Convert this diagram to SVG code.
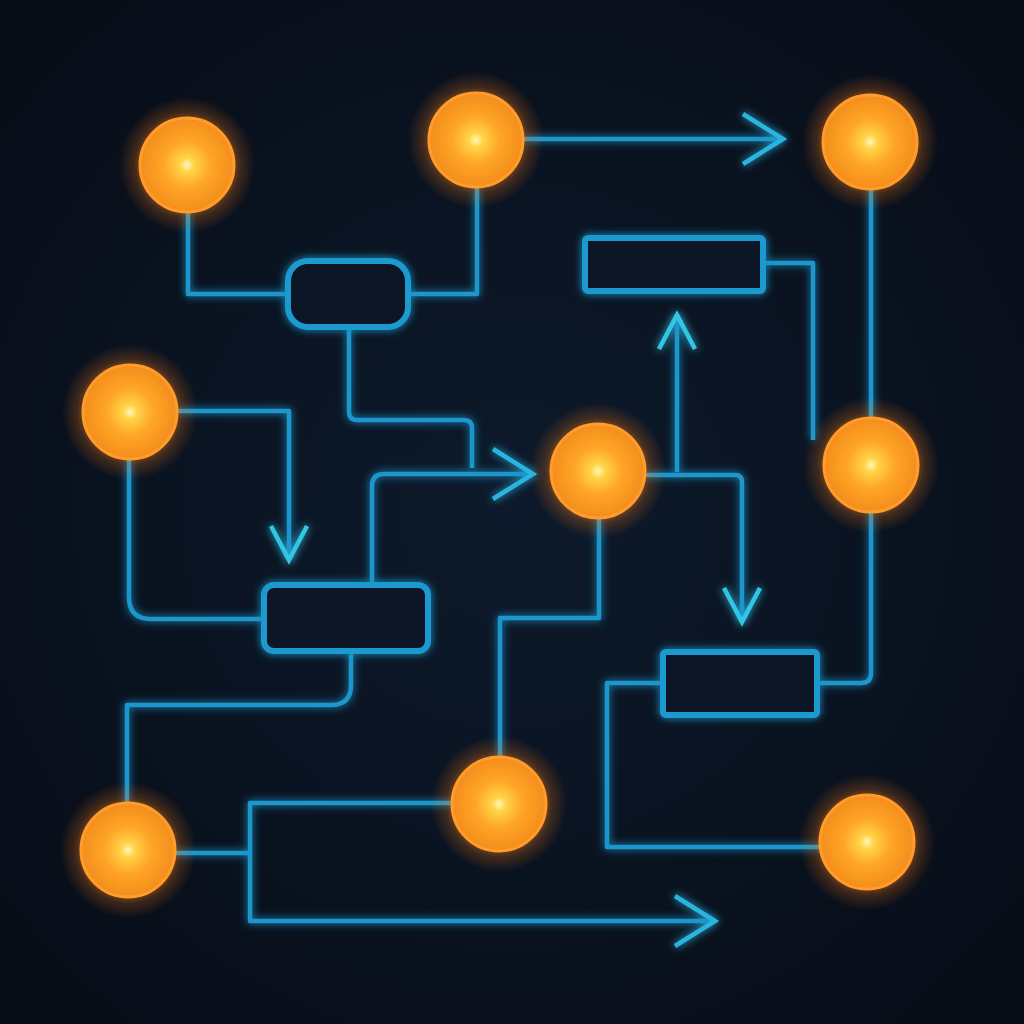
<svg xmlns="http://www.w3.org/2000/svg" width="1024" height="1024" viewBox="0 0 1024 1024">
<defs>
<radialGradient id="bg" cx="50%" cy="50%" r="70%">
<stop offset="0" stop-color="#0d1a2b"/>
<stop offset="1" stop-color="#070c16"/>
</radialGradient>
<radialGradient id="orb" cx="50%" cy="50%" r="50%">
<stop offset="0" stop-color="#fff8c0"/>
<stop offset="0.15" stop-color="#ffd448"/>
<stop offset="0.5" stop-color="#ffa626"/>
<stop offset="1" stop-color="#f38d1c"/>
</radialGradient>
<radialGradient id="halo" cx="50%" cy="50%" r="50%">
<stop offset="0.6" stop-color="#ff8a1a" stop-opacity="0.6"/>
<stop offset="0.78" stop-color="#ff7a10" stop-opacity="0.22"/>
<stop offset="1" stop-color="#ff7a10" stop-opacity="0"/>
</radialGradient>
<filter id="glow" x="-20%" y="-20%" width="140%" height="140%">
<feGaussianBlur in="SourceGraphic" stdDeviation="4" result="b"/>
<feMerge><feMergeNode in="b"/><feMergeNode in="SourceGraphic"/></feMerge>
</filter>
<marker id="big" markerUnits="userSpaceOnUse" viewBox="-4 -4 48 58" refX="40" refY="25" markerWidth="48" markerHeight="58" orient="auto" overflow="visible">
<path d="M0,0 L40,25 L0,50" fill="none" stroke="#2bb4e0" stroke-width="4.5" stroke-linejoin="miter"/>
</marker>
<marker id="small" markerUnits="userSpaceOnUse" viewBox="-4 -4 42 44" refX="34" refY="18" markerWidth="42" markerHeight="44" orient="auto" overflow="visible">
<path d="M0,0 L34,18 L0,36" fill="none" stroke="#33c6e6" stroke-width="4.5" stroke-linejoin="miter"/>
</marker>
</defs>
<style>
.wire{fill:none;stroke:#1f96cc;stroke-width:4.5;stroke-linejoin:round;stroke-linecap:butt}
.box{fill:#0a1626;stroke:#1f9ad0;stroke-width:6}
.orb{fill:url(#orb);stroke:#ff9c2c;stroke-width:3}
.halo{fill:url(#halo)}
</style>
<rect width="1024" height="1024" fill="url(#bg)"/>

<g id="connectors" filter="url(#glow)">
<path class="wire" d="M188,213 V294 H288"/>
<path class="wire" d="M408,294 H477 V188"/>
<path class="wire" d="M524,139 H783" marker-end="url(#big)"/>
<path class="wire" d="M349,327 V412 Q349,420 357,420 H464 Q472,420 472,428 V468"/>
<path class="wire" d="M372,584 V486 Q372,474 384,474 H533" marker-end="url(#big)"/>
<path class="wire" d="M178,411 H289 V560" marker-end="url(#small)"/>
<path class="wire" d="M129,460 V597 Q129,619 151,619 H263"/>
<path class="wire" d="M351,652 V685 Q351,705 331,705 H127 V802"/>
<path class="wire" d="M175,853 H250"/>
<path class="wire" d="M452,803 H250 V921 H715" marker-end="url(#big)"/>
<path class="wire" d="M500,757 V618 H599 V518"/>
<path class="wire" d="M677,472 V315" marker-end="url(#small)"/>
<path class="wire" d="M646,475 H735 Q742,475 742,482 V622" marker-end="url(#small)"/>
<path class="wire" d="M764,263 H813 V440"/>
<path class="wire" d="M871,190 V417"/>
<path class="wire" d="M871,513 V673 Q871,683 861,683 H818"/>
<path class="wire" d="M662,683 H607 V847 H820"/>
</g>

<g id="box-a" filter="url(#glow)"><rect class="box" x="288" y="261" width="120" height="66" rx="20"/></g>
<g id="box-b" filter="url(#glow)"><rect class="box" x="585" y="238" width="178" height="53" rx="3"/></g>
<g id="box-c" filter="url(#glow)"><rect class="box" x="264" y="585" width="164" height="66" rx="10"/></g>
<g id="box-d" filter="url(#glow)"><rect class="box" x="663" y="652" width="154" height="63" rx="3"/></g>

<g id="node-1"><circle class="halo" cx="187" cy="165" r="68"/><circle class="orb" cx="187" cy="165" r="47"/></g>
<g id="node-2"><circle class="halo" cx="476" cy="140" r="68"/><circle class="orb" cx="476" cy="140" r="47"/></g>
<g id="node-3"><circle class="halo" cx="870" cy="142" r="68"/><circle class="orb" cx="870" cy="142" r="47"/></g>
<g id="node-4"><circle class="halo" cx="130" cy="412" r="68"/><circle class="orb" cx="130" cy="412" r="47"/></g>
<g id="node-5"><circle class="halo" cx="598" cy="471" r="68"/><circle class="orb" cx="598" cy="471" r="47"/></g>
<g id="node-6"><circle class="halo" cx="871" cy="465" r="68"/><circle class="orb" cx="871" cy="465" r="47"/></g>
<g id="node-7"><circle class="halo" cx="128" cy="850" r="68"/><circle class="orb" cx="128" cy="850" r="47"/></g>
<g id="node-8"><circle class="halo" cx="499" cy="804" r="68"/><circle class="orb" cx="499" cy="804" r="47"/></g>
<g id="node-9"><circle class="halo" cx="867" cy="842" r="68"/><circle class="orb" cx="867" cy="842" r="47"/></g>
</svg>
